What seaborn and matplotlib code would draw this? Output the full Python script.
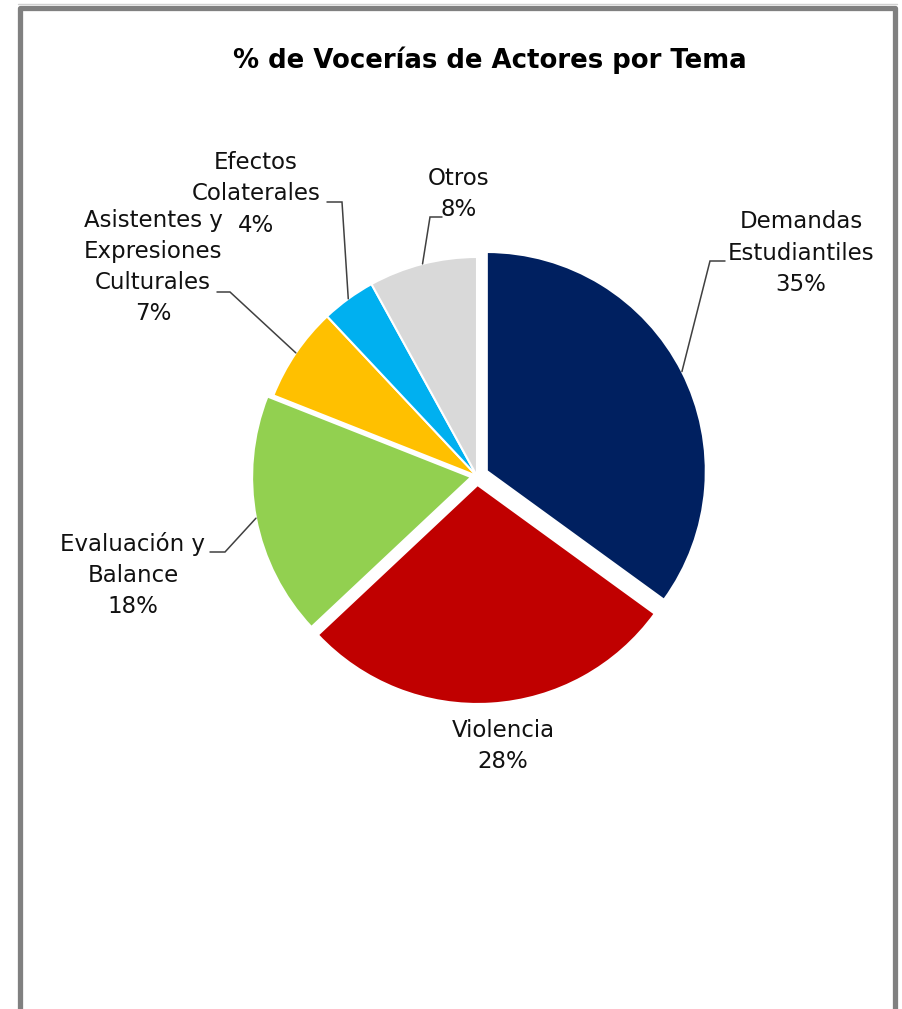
import numpy as np
import matplotlib.pyplot as plt
import seaborn as sns

W, H = 902, 1009

temas = ["Demandas\nEstudiantiles", "Violencia", "Evaluación y\nBalance",
         "Asistentes y\nExpresiones\nCulturales", "Efectos\nColaterales", "Otros"]
porcentajes = [35, 28, 18, 7, 4, 8]
colores = ["#002060", "#C00000", "#92D050", "#FFC000", "#00B0F0", "#D9D9D9"]
separacion = [11, 9, 6, 0, 0, 0]

# label layout in pixel coords (x, y from top): text centre, and leader elbow
pos_texto = [(801, 253), (503, 746), (133, 575), (153, 267), (256, 194), (459, 194)]
codo = [((725, 261), (710, 261)), None, ((210, 552), (225, 552)),
        ((217, 292), (230, 292)), ((327, 202), (342, 202)), ((442, 217), (430, 217))]

sns.set_theme(style="white")
plt.rcParams['font.family'] = ['DejaVu Sans']


def py(y):
    return H - y


fig = plt.figure(figsize=(W / 100, H / 100), dpi=100)
ax = fig.add_axes([0, 0, 1, 1])
ax.axis("off")

cx, cy, r = 477, 476, 219
wedges, _ = ax.pie(porcentajes, colors=colores, startangle=90, counterclock=False,
                   explode=separacion, center=(cx, py(cy)), radius=r,
                   wedgeprops=dict(edgecolor="white", linewidth=1.5))
ax.set_xlim(0, W)
ax.set_ylim(0, H)
ax.set_aspect("equal")

for w, tema, p, (tx, ty), c in zip(wedges, temas, porcentajes, pos_texto, codo):
    ax.text(tx, py(ty), f"{tema}\n{p}%", ha="center", va="center",
            multialignment="center", fontsize=16.5, linespacing=1.46, color="#111111")
    if c is None:
        continue
    ang = np.deg2rad((w.theta1 + w.theta2) / 2)
    ex = w.center[0] + w.r * np.cos(ang)
    ey = w.center[1] + w.r * np.sin(ang)
    (x0, y0), (x1, y1) = c
    ax.plot([x0, x1, ex], [py(y0), py(y1), ey], color="#404040", lw=1.1,
            solid_joinstyle="miter")

ax.text(490, py(60), "% de Vocerías de Actores por Tema", ha="center", va="center",
        fontsize=18.7, fontweight="bold", color="black")

# outer frame (open at the bottom)
ax.plot([19.5, 19.5, 895, 895], [-10, py(7.5), py(7.5), -10], color="#808080",
        lw=3.8, solid_joinstyle="round", solid_capstyle="butt")
ax.plot([18, 897], [py(4), py(4)], color="#d0d0d0", lw=1)

fig.savefig("out.png", dpi=100)
